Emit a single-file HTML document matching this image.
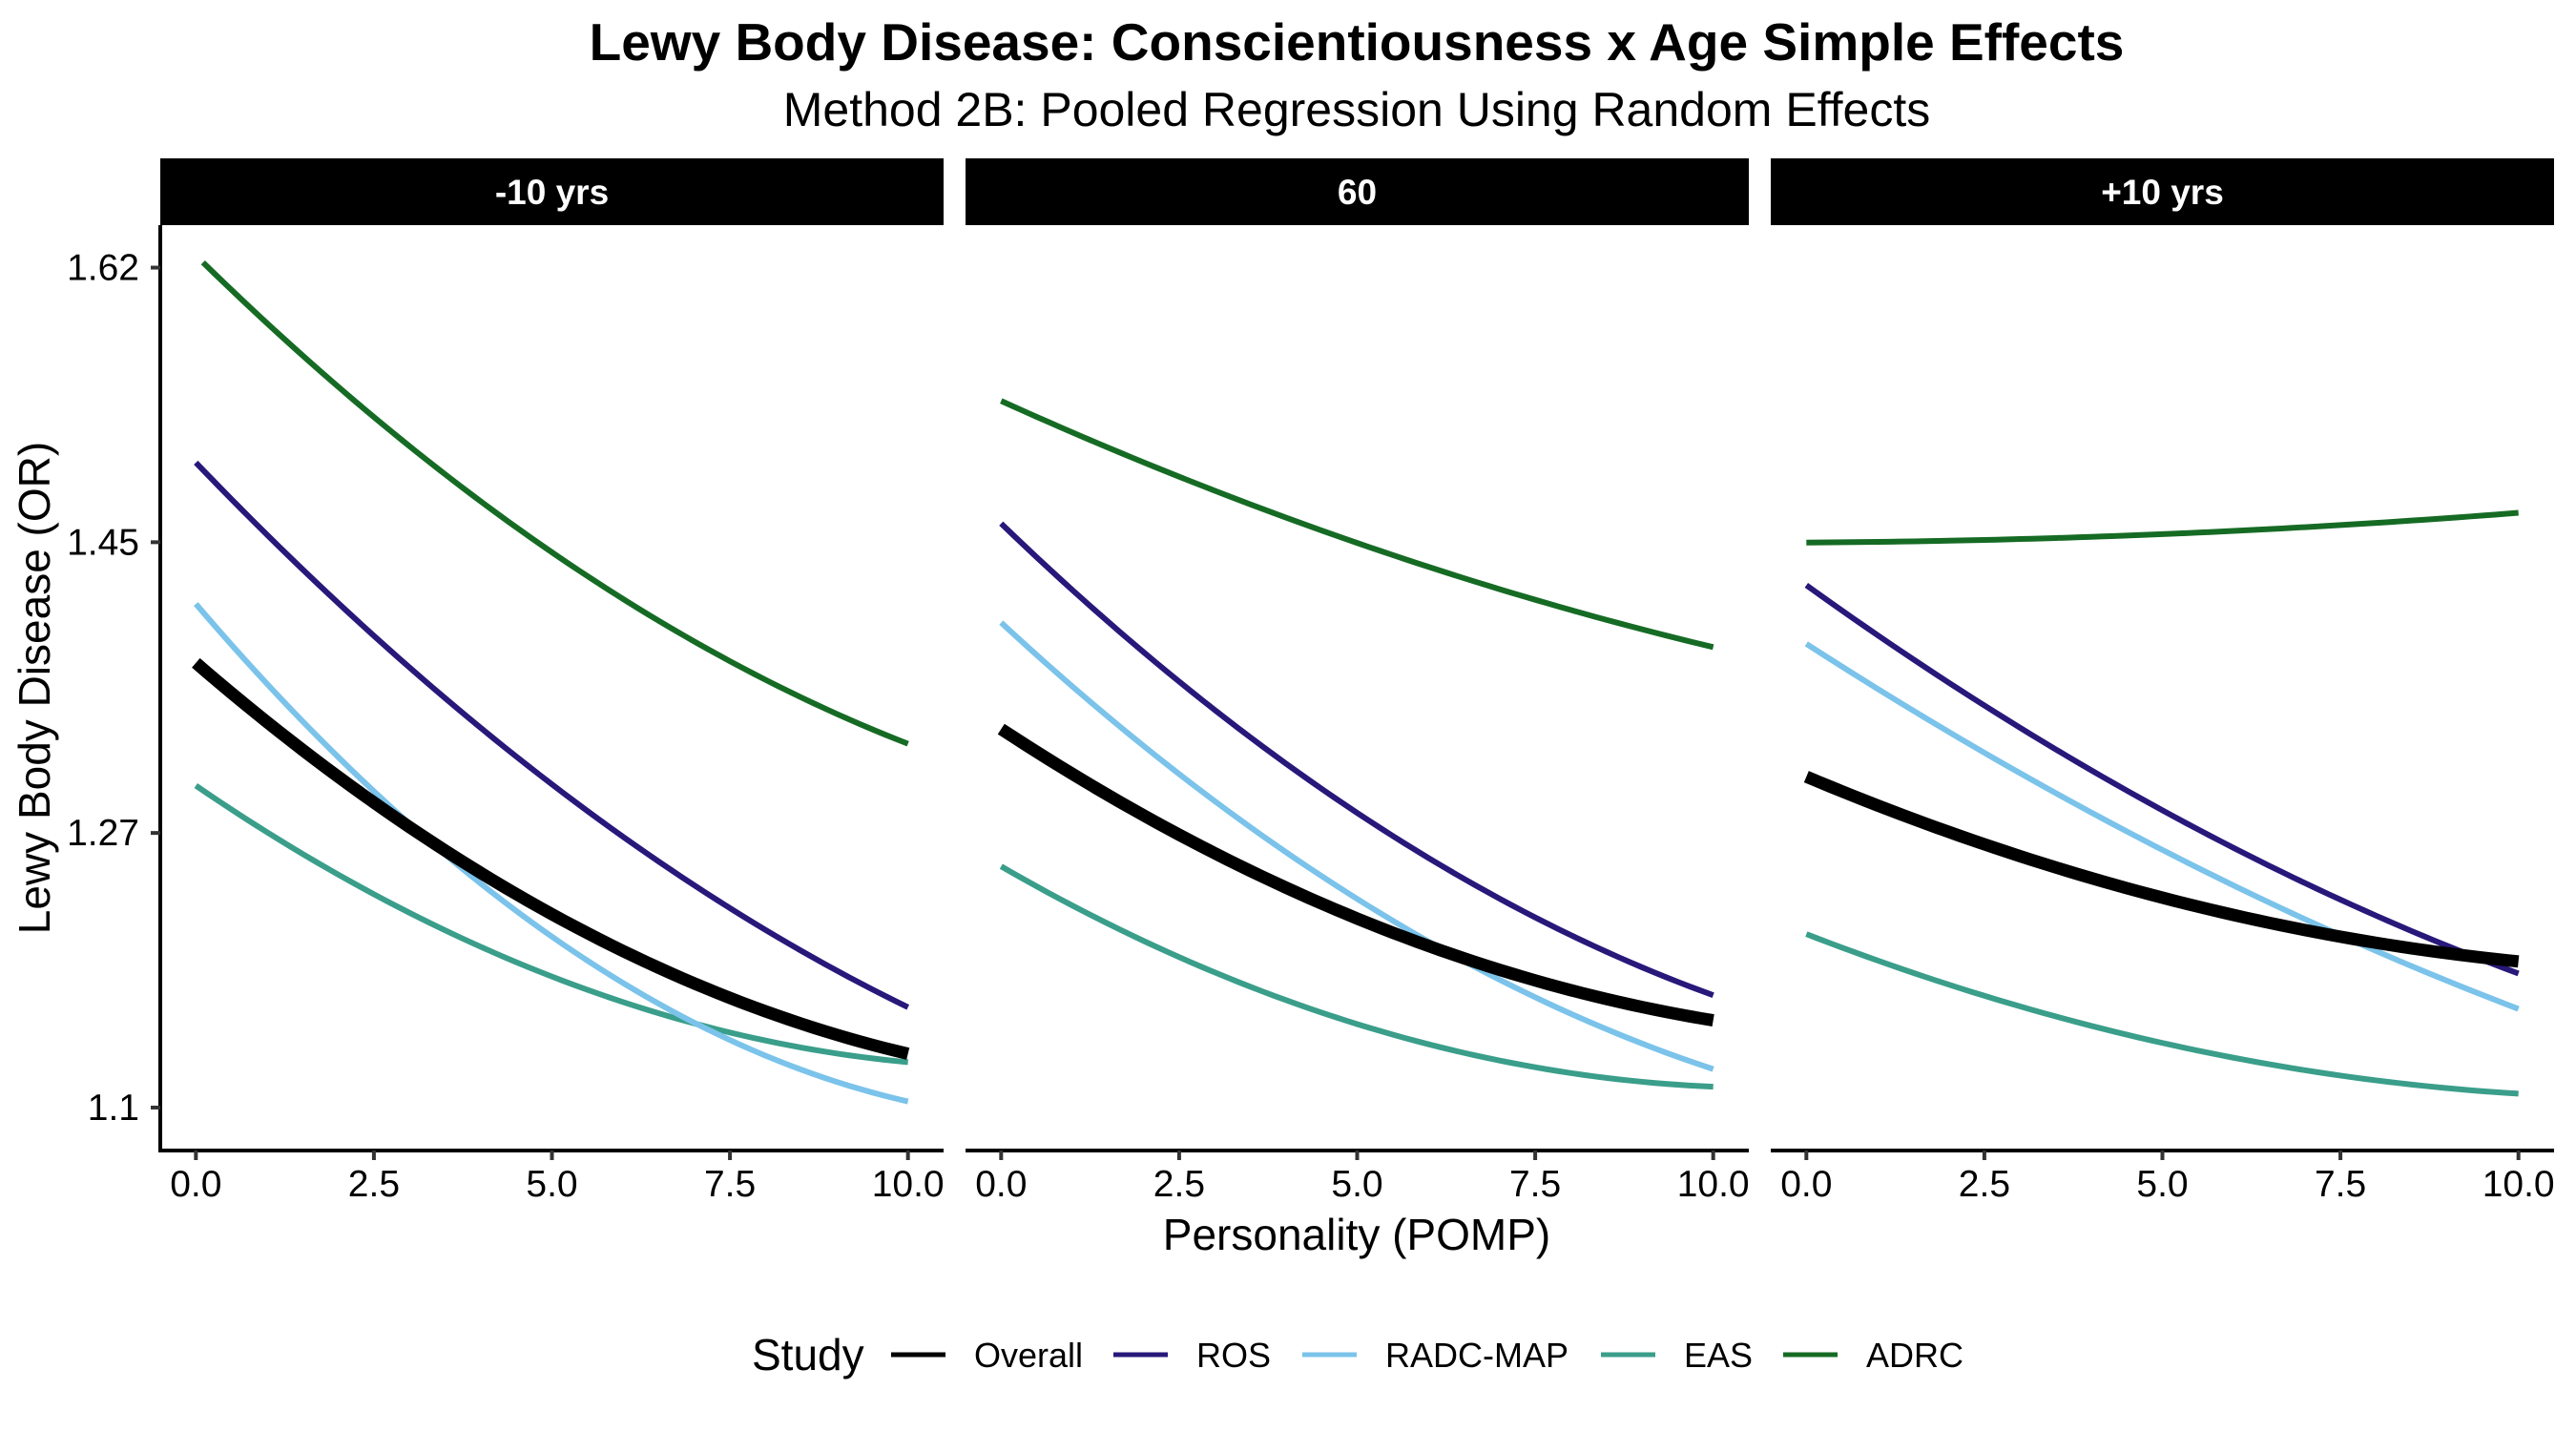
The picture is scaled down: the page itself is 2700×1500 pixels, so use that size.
<!DOCTYPE html>
<html><head><meta charset="utf-8"><style>
html,body{margin:0;padding:0;background:#fff;}
svg{display:block;font-family:"Liberation Sans",Arial,sans-serif;}
</style></head><body>
<svg id="chart" width="2700" height="1500" viewBox="0 0 2700 1500" xmlns="http://www.w3.org/2000/svg">
<text x="1422" y="63" text-anchor="middle" font-size="55" font-weight="bold">Lewy Body Disease: Conscientiousness x Age Simple Effects</text>
<text x="1422" y="132" text-anchor="middle" font-size="50">Method 2B: Pooled Regression Using Random Effects</text>
<text x="1422" y="1310" text-anchor="middle" font-size="46">Personality (POMP)</text>
<text transform="translate(52,721) rotate(-90)" text-anchor="middle" font-size="46">Lewy Body Disease (OR)</text>
<g id="panels"></g>
<g id="legend"></g>
</svg>
<script>
const facets = ["-10 yrs", "60", "+10 yrs"];
const xValues = [0, 2.5, 5, 7.5, 10];
const xTicks = [0, 2.5, 5, 7.5, 10];
const xTickLabels = ["0.0", "2.5", "5.0", "7.5", "10.0"];
const yTicks = [1.1, 1.27, 1.45, 1.62];
const yTickLabels = ["1.1", "1.27", "1.45", "1.62"];
const studies = ["Overall", "ROS", "RADC-MAP", "EAS", "ADRC"];
const colors = ["#000000", "#27187a", "#7bc3ea", "#3a9e8a", "#166b24"];
const widths = [13, 6, 6, 6, 6];
// values per facet, per study (x = 0, 2.5, 5, 7.5, 10)
const overallVals = [[1.374, 1.292, 1.218, 1.167, 1.134], [1.335, 1.268, 1.216, 1.181, 1.153], [1.305, 1.263, 1.229, 1.207, 1.190]];
const rosVals = [[1.499, 1.394, 1.296, 1.227, 1.161], [1.460, 1.368, 1.279, 1.218, 1.170], [1.423, 1.350, 1.283, 1.229, 1.183]];
const radcVals = [[1.416, 1.287, 1.207, 1.149, 1.100], [1.400, 1.307, 1.229, 1.168, 1.124], [1.387, 1.320, 1.259, 1.207, 1.161]];
const easVals = [[1.300, 1.231, 1.180, 1.149, 1.127], [1.250, 1.192, 1.151, 1.127, 1.112], [1.208, 1.168, 1.140, 1.121, 1.108]];
const adrcVals = [[1.620, 1.535, 1.440, 1.374, 1.327], [1.536, 1.494, 1.448, 1.413, 1.386], [1.450, 1.451, 1.455, 1.461, 1.468]];
const adrcStart = [0.1, 0, 0];

const NS = "http://www.w3.org/2000/svg";
const panelLefts = [168, 1012, 1856];
const panelW = 821, panelTop = 236, panelBottom = 1206, stripTop = 166;
const yMin = 1.0734, yMax = 1.6463;
function xScale(p, v) { return panelLefts[p] + panelW * (v + 0.5) / 11; }
function yScale(v) { return panelBottom - (v - yMin) / (yMax - yMin) * (panelBottom - panelTop); }
function mk(tag, attrs, parent) { const e = document.createElementNS(NS, tag); for (const k in attrs) e.setAttribute(k, attrs[k]); parent.appendChild(e); return e; }
// least-squares quadratic fit through the read values, for a smooth curve
function fitQuad(xs, ys) {
  let S = [[0,0,0],[0,0,0],[0,0,0]], B = [0,0,0];
  for (let i = 0; i < xs.length; i++) {
    const r = [1, xs[i], xs[i] * xs[i]];
    for (let a = 0; a < 3; a++) { B[a] += r[a] * ys[i]; for (let b = 0; b < 3; b++) S[a][b] += r[a] * r[b]; }
  }
  for (let c = 0; c < 3; c++) {
    for (let r2 = c + 1; r2 < 3; r2++) {
      const f = S[r2][c] / S[c][c];
      for (let k = c; k < 3; k++) S[r2][k] -= f * S[c][k];
      B[r2] -= f * B[c];
    }
  }
  const co = [0,0,0];
  for (let r2 = 2; r2 >= 0; r2--) { let s = B[r2]; for (let k = r2 + 1; k < 3; k++) s -= S[r2][k] * co[k]; co[r2] = s / S[r2][r2]; }
  return x => co[0] + co[1] * x + co[2] * x * x;
}
const seriesVals = [overallVals, rosVals, radcVals, easVals, adrcVals];
const panels = document.getElementById("panels");
facets.forEach((f, p) => {
  const g = mk("g", {}, panels);
  
  
  const strip = mk("rect", { x: panelLefts[p], y: stripTop, width: panelW, height: panelTop - stripTop, fill: "#000" }, g);
  
  
  const st = mk("text", { x: panelLefts[p] + panelW / 2, y: (stripTop + panelTop) / 2 + 13, "text-anchor": "middle", "font-size": 37, "font-weight": "bold", fill: "#fff" }, g);
  st.textContent = f;
  
  
  const xa = mk("line", { x1: panelLefts[p], x2: panelLefts[p] + panelW, y1: panelBottom, y2: panelBottom, stroke: "#000", "stroke-width": 4 }, g);
  
  
  xTicks.forEach((t, i) => {
    const x = xScale(p, t);
    const tk = mk("line", { x1: x, x2: x, y1: panelBottom, y2: panelBottom + 10, stroke: "#333", "stroke-width": 4 }, g);
    
    
    const tl = mk("text", { x: x, y: 1254, "text-anchor": "middle", "font-size": 39, fill: "#000" }, g);
    tl.textContent = xTickLabels[i];
    
    
  });
  if (p === 0) {
    const ya = mk("line", { x1: panelLefts[0], x2: panelLefts[0], y1: panelTop, y2: panelBottom + 2, stroke: "#000", "stroke-width": 4 }, g);
    
    
    yTicks.forEach((t, i) => {
      const y = yScale(t);
      const tk = mk("line", { x1: 158, x2: 168, y1: y, y2: y, stroke: "#333", "stroke-width": 4 }, g);
      
      
      const tl = mk("text", { x: 146, y: y + 13, "text-anchor": "end", "font-size": 39, fill: "#000" }, g);
      tl.textContent = yTickLabels[i];
      
      
    });
  }
  for (let s = studies.length - 1; s >= 0; s--) {
    const vals = seriesVals[s][p];
    const xs = vals.map((v, i) => (s === 4 && i === 0) ? adrcStart[p] : xValues[i]);
    const fn = fitQuad(xs, vals);
    const x0 = xs[0], x1 = xs[xs.length - 1];
    let d = "";
    for (let k = 0; k <= 60; k++) {
      const xv = x0 + (x1 - x0) * k / 60;
      d += (k ? " L" : "M") + xScale(p, xv).toFixed(2) + "," + yScale(fn(xv)).toFixed(2);
    }
    const path = mk("path", { d: d, fill: "none", stroke: colors[s], "stroke-width": widths[s] }, g);
    
    
  }
});
const legend = document.getElementById("legend");
const lt = mk("text", { x: 788, y: 1436, "font-size": 46 }, legend);
lt.textContent = "Study";


const legX = [934, 1167, 1365, 1678, 1869];
studies.forEach((s, i) => {
  const ln = mk("line", { x1: legX[i], x2: legX[i] + 57, y1: 1420, y2: 1420, stroke: colors[i], "stroke-width": 5 }, legend);
  
  
  const tx = mk("text", { x: legX[i] + 87, y: 1433, "font-size": 36 }, legend);
  tx.textContent = s;
  
  
});
</script>
</body></html>
